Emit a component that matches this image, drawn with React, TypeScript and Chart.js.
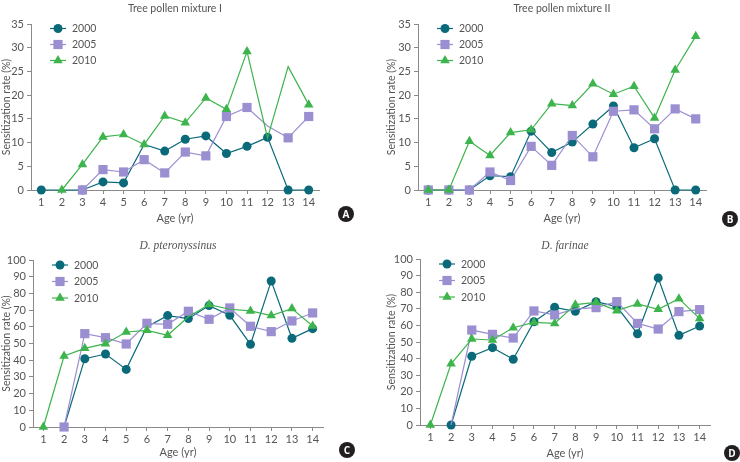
import React, { useEffect, useRef } from 'react';
import { Chart, registerables } from 'chart.js';

Chart.register(...registerables);

// ---------- data ----------
const ageLabels = ['1', '2', '3', '4', '5', '6', '7', '8', '9', '10', '11', '12', '13', '14'];
const seriesNames = ['2000', '2005', '2010'];

const treeI2000 = [0, 0, 0, 1.7, 1.5, 9.6, 8.2, 10.7, 11.4, 7.7, 9.2, 11.1, 0, 0];
const treeI2005 = [null, null, 0, 4.3, 3.8, 6.4, 3.6, 8.0, 7.2, 15.5, 17.4, 13.5, 11.0, 15.5];
const treeI2010 = [null, 0, 5.4, 11.2, 11.7, 9.6, 15.6, 14.2, 19.4, 17.0, 29.2, 11.0, 26.0, 18.0];

const treeII2000 = [0, 0, 0, 3.0, 2.8, 12.4, 7.9, 10.1, 13.9, 17.7, 8.9, 10.8, 0, 0];
const treeII2005 = [0, 0, 0, 3.8, 2.0, 9.2, 5.2, 11.5, 7.0, 16.6, 16.9, 12.9, 17.1, 15.0];
const treeII2010 = [0, 0, 10.3, 7.3, 12.1, 12.7, 18.2, 17.8, 22.4, 20.2, 21.9, 15.2, 25.3, 32.4];

const dpt2000 = [null, 0, 40.9, 43.7, 34.5, 60, 66.7, 64.9, 72.7, 66.9, 49.5, 87.4, 53.1, 58.9];
const dpt2005 = [null, 0, 55.9, 53.5, 49.7, 62.1, 61.5, 69.3, 64.5, 71.3, 60.3, 57.1, 63.5, 68.3];
const dpt2010 = [0, 42.5, 47.1, 49.9, 56.9, 57.9, 54.9, 66, 73.3, 70.5, 69.5, 66.7, 70.9, 60.5];

const df2000 = [null, 0, 41.4, 46.6, 39.6, 62.2, 70.9, 68.5, 74.3, 71.3, 55.0, 88.6, 54.0, 59.6];
const df2005 = [null, 0, 57.2, 54.6, 52.4, 68.7, 66.3, 70, 70.7, 74.3, 61.2, 57.8, 68.3, 69.5];
const df2010 = [0, 36.9, 51.8, 51.2, 58.6, 61.8, 61.2, 72.5, 73.9, 68.9, 72.9, 69.7, 76.1, 64.1];

// indices (per series) whose markers are not shown in the original
const treeIHidden = [[1, 5], [11], [11, 12]];
const treeIIHidden = [[], [], []];
const dptHidden = [[1, 5], [], [7, 9]];
const dfHidden = [[], [1, 7], []];

// ---------- styles ----------
const COLORS = ['#0b6a7a', '#9b8fd2', '#3db44c'];
const POINT_STYLES = ['circle', 'rect', 'triangle'];
const POINT_RADII = [4.5, 6.5, 5.5];
const AXIS = '#8a8a8a';
const TXT = '#555555';
const FONT = 'Lato, "Open Sans", sans-serif';

const W = 370;
const H = 231;

type PanelDef = {
  title: string;
  italic: boolean;
  yMax: number;
  yStep: number;
  series: (number | null)[][];
  hidden: number[][];
  badge: string;
  x: number;
  y: number;
  area: { l: number; r: number; t: number; b: number };
  padL: number;
  titleY: number;
  xTitlePad: number;
  legendTop: number;
  legendGap: number;
  badgeX: number;
  badgeY: number;
};

const panels: PanelDef[] = [
  {
    title: 'Tree pollen mixture I', italic: false, yMax: 35, yStep: 5,
    series: [treeI2000, treeI2005, treeI2010], hidden: treeIHidden, badge: 'A',
    x: 0, y: 0, area: { l: 31, r: 319, t: 24, b: 190 }, padL: 0, titleY: 8, xTitlePad: 6,
    legendTop: 4.5, legendGap: 16, badgeX: 346, badgeY: 214,
  },
  {
    title: 'Tree pollen mixture II', italic: false, yMax: 35, yStep: 5,
    series: [treeII2000, treeII2005, treeII2010], hidden: treeIIHidden, badge: 'B',
    x: 370, y: 0, area: { l: 48, r: 336, t: 24, b: 190 }, padL: 15, titleY: 8, xTitlePad: 6,
    legendTop: 4.5, legendGap: 16, badgeX: 730, badgeY: 219,
  },
  {
    title: 'D. pteronyssinus', italic: true, yMax: 100, yStep: 10,
    series: [dpt2000, dpt2005, dpt2010], hidden: dptHidden, badge: 'C',
    x: 0, y: 231, area: { l: 33, r: 323, t: 29, b: 196 }, padL: 0, titleY: 14, xTitlePad: 2.5,
    legendTop: 5, legendGap: 16.5, badgeX: 347, badgeY: 450,
  },
  {
    title: 'D. farinae', italic: true, yMax: 100, yStep: 10,
    series: [df2000, df2005, df2010], hidden: dfHidden, badge: 'D',
    x: 370, y: 231, area: { l: 50, r: 340, t: 28, b: 194 }, padL: 15, titleY: 14, xTitlePad: 2,
    legendTop: 5, legendGap: 16.5, badgeX: 732, badgeY: 453,
  },
];

function drawMarker(ctx: CanvasRenderingContext2D, style: string, x: number, y: number, r: number) {
  ctx.beginPath();
  if (style === 'circle') {
    ctx.arc(x, y, r, 0, Math.PI * 2);
  } else if (style === 'rect') {
    const s = Math.SQRT1_2 * r;
    ctx.rect(x - s, y - s, 2 * s, 2 * s);
  } else {
    let rad = 0;
    ctx.moveTo(x + Math.sin(rad) * r, y - Math.cos(rad) * r);
    rad += (2 * Math.PI) / 3;
    ctx.lineTo(x + Math.sin(rad) * r, y - Math.cos(rad) * r);
    rad += (2 * Math.PI) / 3;
    ctx.lineTo(x + Math.sin(rad) * r, y - Math.cos(rad) * r);
    ctx.closePath();
  }
  ctx.fill();
}

function makeLegendPlugin(p: PanelDef) {
  return {
    id: 'insideLegend',
    afterDraw(chart: any) {
      const { ctx, chartArea } = chart;
      ctx.save();
      seriesNames.forEach((name, i) => {
        const cx = chartArea.left + 27;
        const cy = chartArea.top + p.legendTop + i * p.legendGap;
        ctx.strokeStyle = COLORS[i];
        ctx.fillStyle = COLORS[i];
        ctx.lineWidth = 1.2;
        ctx.beginPath();
        ctx.moveTo(cx - 8, cy);
        ctx.lineTo(cx + 8, cy);
        ctx.stroke();
        drawMarker(ctx, POINT_STYLES[i], cx, cy, POINT_RADII[i]);
        ctx.fillStyle = TXT;
        ctx.font = `10.5px ${FONT}`;
        ctx.textAlign = 'left';
        ctx.textBaseline = 'middle';
        ctx.fillText(name, cx + 14, cy + 0.5);
      });
      ctx.restore();
    },
  };
}

function Panel({ p }: { p: PanelDef }) {
  const ref = useRef<HTMLCanvasElement | null>(null);

  useEffect(() => {
    if (!ref.current) return;
    const tickFont = { family: FONT, size: 11 };
    const chart = new Chart(ref.current, {
      type: 'line',
      data: {
        labels: ageLabels,
        datasets: p.series.map((d, i) => ({
          label: seriesNames[i],
          data: d,
          borderColor: COLORS[i],
          backgroundColor: COLORS[i],
          borderWidth: 1.2,
          pointStyle: POINT_STYLES[i],
          pointRadius: (c: any) => (p.hidden[i].includes(c.dataIndex) ? 0 : POINT_RADII[i]),
          pointBorderWidth: 0,
          pointBackgroundColor: COLORS[i],
          order: 2 - i,
          clip: false,
          tension: 0,
        })),
      },
      options: {
        responsive: false,
        animation: false,
        devicePixelRatio: 1,
        events: [],
        layout: { padding: { left: p.padL, right: W - p.area.r, top: p.area.t, bottom: 0 } },
        plugins: {
          legend: { display: false },
          tooltip: { enabled: false },
          title: { display: false },
        },
        scales: {
          x: {
            type: 'category',
            offset: true,
            grid: { display: true, drawOnChartArea: false, drawTicks: true, tickLength: 4, color: AXIS },
            border: { display: true, color: AXIS, width: 1 },
            ticks: { color: TXT, font: tickFont, padding: 2, maxRotation: 0, autoSkip: false },
            title: {
              display: true, text: 'Age (yr)', color: TXT, font: tickFont,
              padding: { top: 0, bottom: p.xTitlePad },
            },
            afterFit: (s: any) => { s.height = H - p.area.b; },
          },
          y: {
            min: 0,
            max: p.yMax,
            grid: { display: true, drawOnChartArea: false, drawTicks: true, tickLength: 4, color: AXIS },
            border: { display: true, color: AXIS, width: 1 },
            ticks: { stepSize: p.yStep, color: TXT, font: tickFont, padding: 3 },
            title: {
              display: true, text: 'Sensitization rate (%)', color: TXT,
              font: { family: FONT, size: 10.5 }, padding: { top: 0, bottom: 0 },
            },
            afterFit: (s: any) => { s.width = p.area.l - p.padL; },
          },
        },
      },
      plugins: [makeLegendPlugin(p)],
    } as any);
    return () => chart.destroy();
  }, [p]);

  return (
    <>
      <canvas
        ref={ref}
        width={W}
        height={H}
        style={{ position: 'absolute', left: p.x, top: p.y, width: W, height: H }}
      />
      <div
        style={{
          position: 'absolute',
          left: p.x + p.area.l,
          width: p.area.r - p.area.l,
          top: p.y + p.titleY - 7,
          height: 14,
          lineHeight: '14px',
          textAlign: 'center',
          color: TXT,
          fontFamily: p.italic ? '"Liberation Serif", "DejaVu Serif", serif' : FONT,
          fontStyle: p.italic ? 'italic' : 'normal',
          fontSize: p.italic ? 11.5 : 10.5,
          whiteSpace: 'nowrap',
        }}
      >
        {p.title}
      </div>
      <div
        style={{
          position: 'absolute',
          left: p.badgeX - 8,
          top: p.badgeY - 8,
          width: 16,
          height: 16,
          borderRadius: 8,
          background: '#231f20',
          color: '#ffffff',
          fontFamily: '"Open Sans", sans-serif',
          fontWeight: 700,
          fontSize: 10,
          lineHeight: '16px',
          textAlign: 'center',
        }}
      >
        {p.badge}
      </div>
    </>
  );
}

export default function App() {
  return (
    <div
      style={{
        position: 'absolute',
        left: 0,
        top: 0,
        width: 740,
        height: 462,
        background: '#ffffff',
        overflow: 'hidden',
      }}
    >
      {panels.map((p) => (
        <Panel key={p.badge} p={p} />
      ))}
    </div>
  );
}
